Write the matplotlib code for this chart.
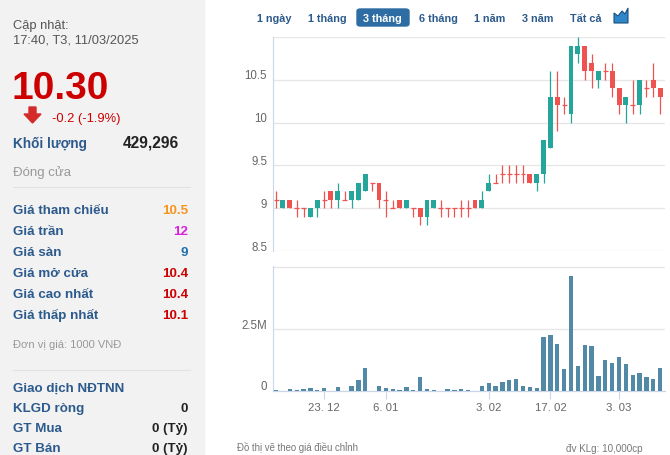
import matplotlib
matplotlib.use('Agg')
import matplotlib.pyplot as plt
from matplotlib.patches import Rectangle, Polygon, FancyBboxPatch
from matplotlib.transforms import ScaledTranslation

plt.rcParams['font.family'] = ['Liberation Sans', 'DejaVu Sans']

# ---- data ----
dates = ['2024-12-12', '2024-12-13', '2024-12-16', '2024-12-17', '2024-12-18', '2024-12-19', '2024-12-20',
         '2024-12-23', '2024-12-24', '2024-12-25', '2024-12-26', '2024-12-27', '2024-12-30', '2024-12-31',
         '2025-01-02', '2025-01-03', '2025-01-06', '2025-01-07', '2025-01-08', '2025-01-09', '2025-01-10',
         '2025-01-13', '2025-01-14', '2025-01-15', '2025-01-16', '2025-01-17', '2025-01-20', '2025-01-21',
         '2025-01-22', '2025-01-23', '2025-01-24', '2025-02-03', '2025-02-04', '2025-02-05', '2025-02-06',
         '2025-02-07', '2025-02-10', '2025-02-11', '2025-02-12', '2025-02-13', '2025-02-17', '2025-02-18',
         '2025-02-19', '2025-02-20', '2025-02-21', '2025-02-24', '2025-02-25', '2025-02-26', '2025-02-27',
         '2025-02-28', '2025-03-03', '2025-03-04', '2025-03-05', '2025-03-06', '2025-03-07', '2025-03-10',
         '2025-03-11']
opens = [9.1, 9.0, 9.1, 9.0, 9.0, 8.9, 9.0, 9.1, 9.2, 9.1, 9.1, 9.1, 9.1, 9.2, 9.3, 9.3, 9.1, 9.0, 9.1, 9.0,
         9.0, 9.0, 8.9, 9.0, 9.0, 9.0, 9.0, 9.0, 9.0, 9.1, 9.0, 9.2, 9.3, 9.4, 9.4, 9.4, 9.4, 9.4, 9.3, 9.4,
         9.7, 10.3, 10.2, 10.1, 10.8, 10.9, 10.7, 10.5, 10.6, 10.6, 10.4, 10.2, 10.2, 10.2, 10.4, 10.5, 10.4]
highs = [9.2, 9.1, 9.1, 9.1, 9.0, 9.0, 9.1, 9.2, 9.2, 9.3, 9.2, 9.2, 9.3, 9.4, 9.3, 9.3, 9.2, 9.1, 9.1, 9.1,
         9.0, 9.0, 9.1, 9.1, 9.1, 9.0, 9.0, 9.1, 9.1, 9.1, 9.2, 9.4, 9.4, 9.5, 9.5, 9.5, 9.5, 9.4, 9.4, 9.8,
         10.6, 10.6, 10.3, 10.9, 11.0, 10.9, 10.8, 10.6, 10.7, 10.7, 10.4, 10.3, 10.5, 10.5, 10.5, 10.7, 10.4]
lows = [9.0, 9.0, 9.0, 8.9, 8.9, 8.9, 8.9, 9.0, 9.0, 9.0, 9.1, 9.0, 9.1, 9.2, 9.2, 9.0, 8.9, 9.0, 9.0, 9.0,
        8.9, 8.8, 8.8, 9.0, 8.9, 8.9, 8.9, 8.9, 8.9, 9.0, 9.0, 9.2, 9.3, 9.3, 9.3, 9.3, 9.3, 9.3, 9.2, 9.3,
        9.7, 9.9, 10.1, 10.0, 10.7, 10.5, 10.4, 10.4, 10.5, 10.3, 10.1, 10.0, 10.1, 10.1, 10.3, 10.3, 10.1]
closes = [9.1, 9.1, 9.0, 9.0, 9.0, 9.0, 9.1, 9.1, 9.1, 9.2, 9.1, 9.2, 9.3, 9.4, 9.3, 9.1, 9.1, 9.0, 9.0, 9.1,
          9.0, 8.9, 9.1, 9.1, 9.0, 9.0, 9.0, 9.0, 9.0, 9.0, 9.1, 9.3, 9.3, 9.4, 9.4, 9.4, 9.4, 9.3, 9.4, 9.8,
          10.3, 10.2, 10.2, 10.9, 10.9, 10.6, 10.6, 10.6, 10.6, 10.4, 10.2, 10.3, 10.2, 10.5, 10.4, 10.4, 10.3]
volumes = [0.03, 0.0, 0.08, 0.04, 0.08, 0.12, 0.04, 0.12, 0.0, 0.15, 0.0, 0.20, 0.45, 0.93, 0.0, 0.20,
           0.12, 0.08, 0.04, 0.16, 0.04, 0.57, 0.08, 0.04, 0.0, 0.08, 0.04, 0.08, 0.04, 0.0, 0.20, 0.32,
           0.20, 0.36, 0.45, 0.49, 0.20, 0.16, 0.12, 2.19, 2.27, 1.91, 0.89, 4.66, 1.01, 1.86, 1.82, 0.61,
           1.26, 1.14, 1.38, 1.09, 0.65, 0.73, 0.57, 0.49, 0.93]  # millions
tick_dates = ['2024-12-23', '2025-01-06', '2025-02-03', '2025-02-17', '2025-03-03']
tick_labels = ['23. 12', '6. 01', '3. 02', '17. 02', '3. 03']
price_ticks = [8.5, 9, 9.5, 10, 10.5, 11]
price_tick_labels = ['8.5', '9', '9.5', '10', '10.5', '']
vol_ticks = [0, 2.5, 5]
vol_tick_labels = ['0', '2.5M', '']

info_labels = ['Giá tham chiếu', 'Giá trần', 'Giá sàn', 'Giá mở cửa', 'Giá cao nhất', 'Giá thấp nhất']
info_values = ['10.5', '12', '9', '10.4', '10.4', '10.1']
info_colors = ['#f7941d', '#dd22dd', '#1f6fae', '#cc0000', '#cc0000', '#cc0000']
foreign_labels = ['Giao dịch NĐTNN', 'KLGD ròng', 'GT Mua', 'GT Bán']
foreign_values = ['', '0', '0 (Tỷ)', '0 (Tỷ)']
tabs = ['1 ngày', '1 tháng', '3 tháng', '6 tháng', '1 năm', '3 năm', 'Tất cả']

W, H = 670, 456
UP = '#26a69a'
DOWN = '#ef5350'
VOLC = '#5289a7'
LBL = '#2c5a8c'
GRID = '#e6e6e6'
AXC = '#ccd6eb'

fig = plt.figure(figsize=(W / 100, H / 100), dpi=100)


def fx(x):
    return x / W


def fy(y):
    return 1 - y / H


def label(x, yc, s, size, **kw):
    # yc = visual centre of the text in pixels
    base = yc + 0.36 * size * 100 / 72
    fig.text(fx(x), fy(base), s, fontsize=size, va='baseline', **kw)


# left info panel
fig.add_artist(Rectangle((0, 0), fx(204), 1, transform=fig.transFigure, color='#f2f2f2', zorder=0))
label(13, 24, 'Cập nhật:', 9.3, color='#555555')
label(13, 39, '17:40, T3, 11/03/2025', 9.3, color='#555555')
label(12, 85, '10.30', 28, color='#cc0000', fontweight='bold')
arrow = [(29, 108), (36, 108), (36, 115), (41, 115), (32.5, 124), (24, 115), (29, 115)]
fig.add_artist(Polygon([(fx(a), fy(b)) for a, b in arrow], closed=True, transform=fig.transFigure,
                       color='#d42a2a'))
label(52, 117, '-0.2 (-1.9%)', 9.3, color='#cc0000')
label(13, 143, 'Khối lượng', 9.8, color=LBL, fontweight='bold')
label(179, 142, '429,296', 11.2, color='#222222', fontweight='bold', ha='right')
label(13, 171, 'Đóng cửa', 9.5, color='#999999')
for ysep in [188, 371]:
    fig.add_artist(plt.Line2D([fx(13), fx(190)], [fy(ysep), fy(ysep)], transform=fig.transFigure,
                              color='#e2e2e2', lw=0.8))
for k, (name, val, col) in enumerate(zip(info_labels, info_values, info_colors)):
    yc = 209 + k * 21
    label(13, yc, name, 9.6, color=LBL, fontweight='bold')
    label(188, yc, val, 9.6, color=col, fontweight='bold', ha='right')
label(13, 344, 'Đơn vị giá: 1000 VNĐ', 8, color='#999999')
for k, (name, val) in enumerate(zip(foreign_labels, foreign_values)):
    yc = 387 + k * 20
    label(13, yc, name, 9.6, color=LBL, fontweight='bold')
    if val:
        label(188, yc, val, 9.6, color='#222222', fontweight='bold', ha='right')

# range tabs
tab_x = [274, 327, 382.5, 438, 490, 537.5, 585.5]
for name, x in zip(tabs, tab_x):
    if name == '3 tháng':
        fig.add_artist(FancyBboxPatch((fx(357), fy(27)), fx(409) - fx(357), (27 - 10) / H,
                                      boxstyle='round,pad=0,rounding_size=0.005',
                                      transform=fig.transFigure, color='#2e6da4'))
        label(x, 18.5, name, 7.8, color='white', fontweight='bold', ha='center')
    else:
        label(x, 18.5, name, 7.8, color=LBL, fontweight='bold', ha='center')
icon = [(614, 24), (614, 14), (618, 17), (622, 12), (625, 15), (628, 9), (628, 24)]
fig.add_artist(Polygon([(fx(a), fy(b)) for a, b in icon], closed=True, transform=fig.transFigure,
                       facecolor='#2f86c8', edgecolor='#1b4f80', lw=0.8))

# price panel + volume panel
ax1 = fig.add_axes([fx(273), fy(252), fx(665) - fx(273), (252 - 38) / H])
ax2 = fig.add_axes([fx(273), fy(392), fx(665) - fx(273), (392 - 267) / H])
x = list(range(len(dates)))
bw = 0.72
for i in x:
    o, hi, lo, c = opens[i], highs[i], lows[i], closes[i]
    col = UP if c > o else DOWN
    ax1.vlines(i, lo, hi, color=col, lw=0.9, zorder=3)
    if abs(c - o) > 1e-9:
        ax1.bar(i, abs(c - o), bottom=min(o, c), width=bw, color=col, zorder=4)
    else:
        ax1.hlines(o, i - bw / 2, i + bw / 2, color=col, lw=0.9, zorder=4)
ax1.set_ylim(8.5, 11.0)

ax2.bar(x, volumes, width=0.62, color=VOLC, zorder=3)
ax2.set_ylim(0, 5.05)

for ax in (ax1, ax2):
    ax.set_xlim(-0.45, 56.7)
    ax.set_facecolor('none')
    for s in ['top', 'right']:
        ax.spines[s].set_visible(False)
    ax.spines['left'].set_color(AXC)
    ax.spines['left'].set_linewidth(0.8)
    ax.yaxis.grid(True, color=GRID, lw=0.9, zorder=0)
    ax.set_axisbelow(True)
    ax.tick_params(axis='y', length=0, pad=4.3, labelsize=8.3, labelcolor='#666666')

ax1.spines['bottom'].set_visible(False)
ax1.set_xticks([])
ax1.set_yticks(price_ticks)
ax1.set_yticklabels(price_tick_labels)

ax2.spines['bottom'].set_color(AXC)
ax2.spines['bottom'].set_linewidth(0.9)
ax2.set_yticks(vol_ticks)
ax2.set_yticklabels(vol_tick_labels)
ax2.set_xticks([dates.index(d) for d in tick_dates])
ax2.set_xticklabels(tick_labels)
ax2.tick_params(axis='x', length=5.8, width=0.8, color=AXC, pad=2, labelsize=8.2, labelcolor='#666666')

shift = ScaledTranslation(0, 6 / 100, fig.dpi_scale_trans)
for ax in (ax1, ax2):
    for t in ax.get_yticklabels():
        t.set_transform(t.get_transform() + shift)

# footer
label(237, 448, 'Đồ thị vẽ theo giá điều chỉnh', 6.9, color='#777777')
label(566, 448, 'đv KLg: 10,000cp', 7.1, color='#777777')

fig.savefig('out.png', dpi=100)
